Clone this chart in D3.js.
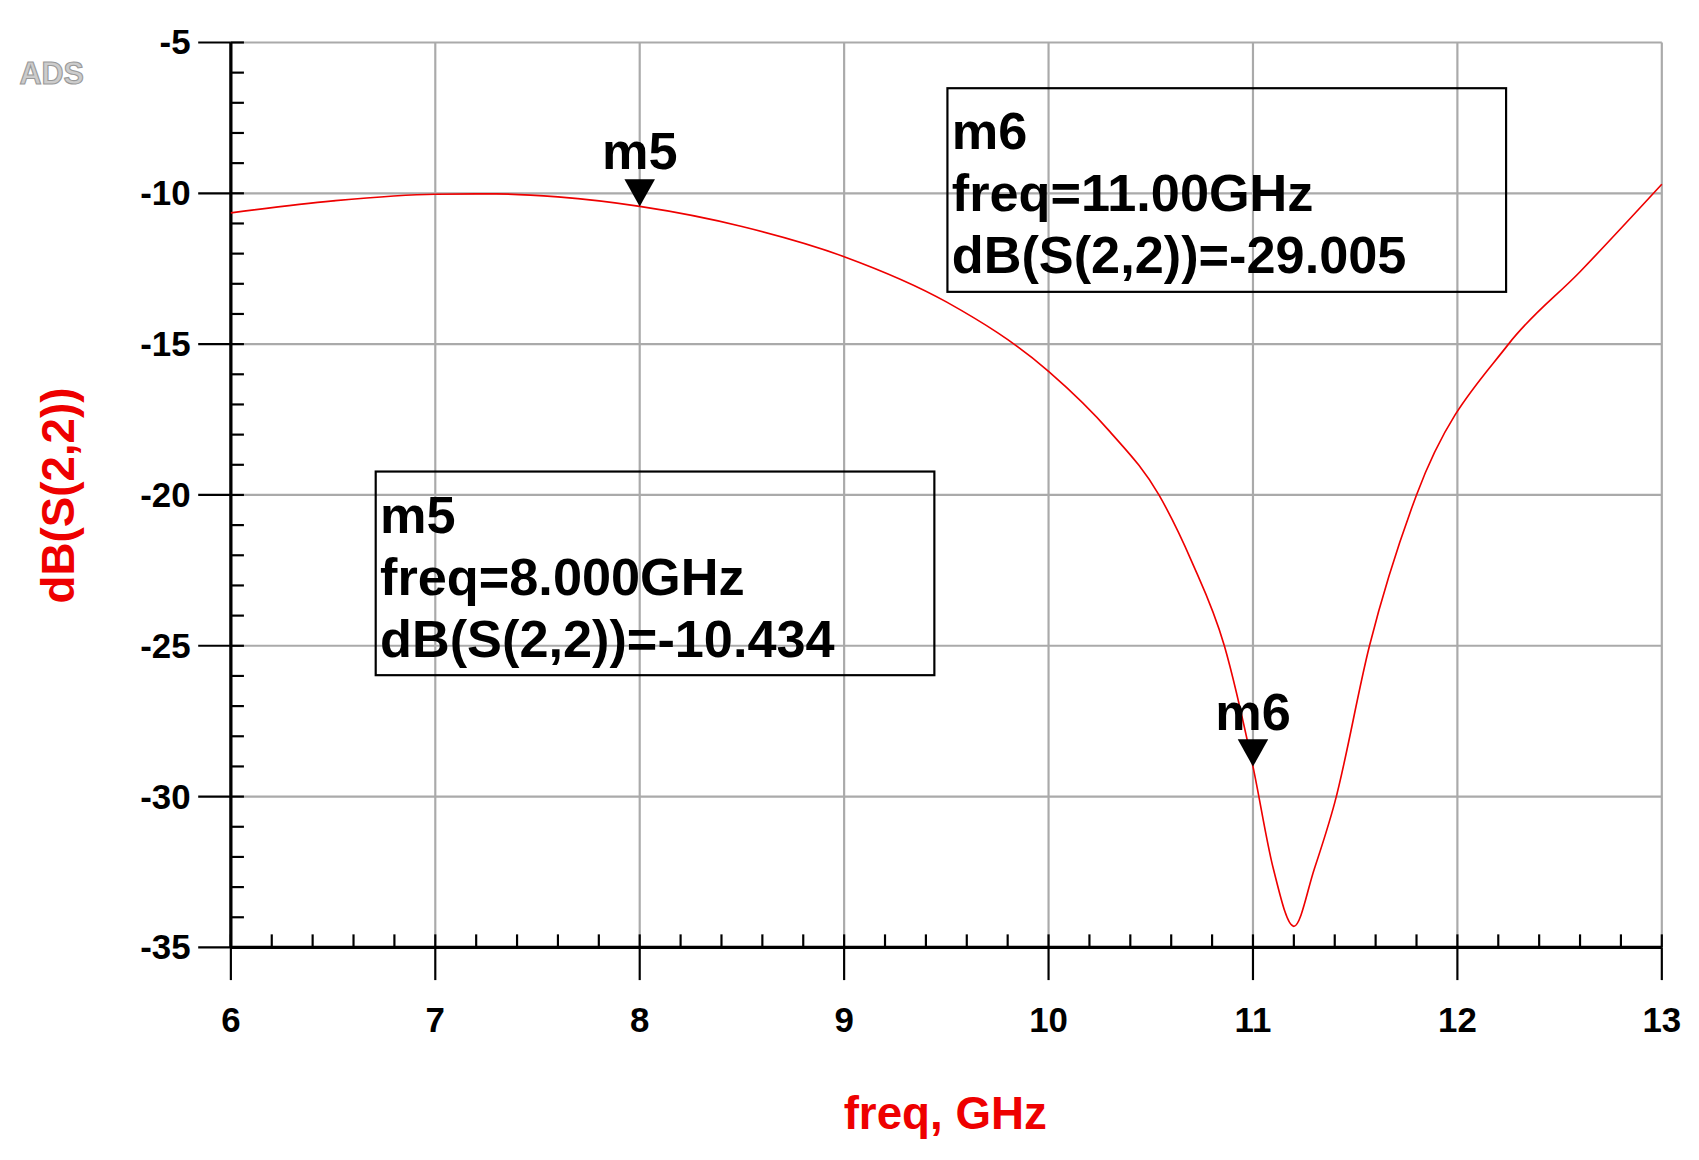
<!DOCTYPE html>
<html><head><meta charset="utf-8">
<script src="https://cdn.jsdelivr.net/npm/d3@7"></script>
<style>body{margin:0;background:#fff}text{font-family:"Liberation Sans",Arial,sans-serif}</style>
</head><body>
<script>
const freq = [6, 6.5, 7, 7.3, 7.6, 8, 8.5, 9, 9.5, 10, 10.3, 10.54, 10.7, 10.86, 11, 11.1, 11.2, 11.3, 11.4, 11.57, 11.8, 12.25, 12.6, 13];
const s22 = [-10.65, -10.25, -10.03, -10.02, -10.12, -10.434, -11.1, -12.1, -13.6, -15.9, -17.9, -20.0, -22.2, -25.0, -29.005, -32.4, -34.3, -32.4, -30.2, -25.0, -20.0, -15.0, -12.6, -9.7];
const markers = [
  {name: "m5", f: 8, v: -10.434, label: ["m5", "freq=8.000GHz", "dB(S(2,2))=-10.434"], box: [345, 433, 513, 187]},
  {name: "m6", f: 11, v: -29.005, label: ["m6", "freq=11.00GHz", "dB(S(2,2))=-29.005"], box: [870, 81, 513, 187]}
];
const xTicks = [6, 7, 8, 9, 10, 11, 12, 13];
const yTicks = [-5, -10, -15, -20, -25, -30, -35];

const W = 1699, H = 1160;
const root = d3.select("body").append("svg").attr("width", W).attr("height", H);
const svg = root.append("g").attr("transform", "scale(1.089)");
const x = d3.scaleLinear().domain([6, 13]).range([212, 1526]);
const y = d3.scaleLinear().domain([-35, -5]).range([870, 39]);

// grid
svg.selectAll(".gx").data(xTicks).enter().append("line")
  .attr("x1", d => x(d)).attr("x2", d => x(d)).attr("y1", 39).attr("y2", 870)
  .attr("stroke", "#aaa").attr("stroke-width", 2);
svg.selectAll(".gy").data(yTicks).enter().append("line")
  .attr("x1", 212).attr("x2", 1526).attr("y1", d => y(d)).attr("y2", d => y(d))
  .attr("stroke", "#aaa").attr("stroke-width", 2);

// minor ticks
const xm = d3.range(6, 13.001, 0.2);
svg.selectAll(".mx").data(xm).enter().append("line")
  .attr("x1", d => x(d)).attr("x2", d => x(d)).attr("y1", 870).attr("y2", 858)
  .attr("stroke", "#000").attr("stroke-width", 2);
const ym = d3.range(-35, -4.999, 1);
svg.selectAll(".my").data(ym).enter().append("line")
  .attr("x1", 212).attr("x2", 224).attr("y1", d => y(d)).attr("y2", d => y(d))
  .attr("stroke", "#000").attr("stroke-width", 2);
// major ticks
svg.selectAll(".Mx").data(xTicks).enter().append("line")
  .attr("x1", d => x(d)).attr("x2", d => x(d)).attr("y1", 870).attr("y2", 900)
  .attr("stroke", "#000").attr("stroke-width", 2);
svg.selectAll(".My").data(yTicks).enter().append("line")
  .attr("x1", 182).attr("x2", 212).attr("y1", d => y(d)).attr("y2", d => y(d))
  .attr("stroke", "#000").attr("stroke-width", 2);
svg.append("line").attr("x1", 212).attr("x2", 1526).attr("y1", 870).attr("y2", 870).attr("stroke", "#000").attr("stroke-width", 3);
svg.append("line").attr("x1", 212).attr("x2", 212).attr("y1", 39).attr("y2", 870).attr("stroke", "#000").attr("stroke-width", 3);

svg.selectAll(".tx").data(xTicks).enter().append("text")
  .attr("x", d => x(d)).attr("y", 948).attr("text-anchor", "middle")
  .attr("font-size", 32).attr("font-weight", "bold").text(d => d);
svg.selectAll(".ty").data(yTicks).enter().append("text")
  .attr("x", 175).attr("y", d => y(d) + 11).attr("text-anchor", "end")
  .attr("font-size", 32).attr("font-weight", "bold").text(d => d);

svg.append("text").attr("x", 868).attr("y", 1037).attr("text-anchor", "middle")
  .attr("font-size", 42).attr("font-weight", "bold").attr("fill", "#e00").text("freq, GHz");
svg.append("text").attr("transform", "translate(68,455) rotate(-90)").attr("text-anchor", "middle")
  .attr("font-size", 42).attr("font-weight", "bold").attr("fill", "#e00").text("dB(S(2,2))");
svg.append("text").attr("x", 18).attr("y", 77).attr("font-size", 28).attr("font-weight", "bold")
  .attr("fill", "#ccc").attr("stroke", "#999").attr("stroke-width", 1).text("ADS");

// curve
svg.append("path").datum(freq.map((f, i) => [f, s22[i]]))
  .attr("d", d3.line().x(d => x(d[0])).y(d => y(d[1])).curve(d3.curveMonotoneX))
  .attr("fill", "none").attr("stroke", "#e00").attr("stroke-width", 1.5);

// markers
markers.forEach(m => {
  const px = x(m.f), py = y(m.v);
  svg.append("path").attr("d", `M${px - 14},${py - 25}L${px + 14},${py - 25}L${px},${py}Z`).attr("fill", "#000");
  svg.append("text").attr("x", px).attr("y", py - 34).attr("text-anchor", "middle")
    .attr("font-size", 48).attr("font-weight", "bold").text(m.name);
  const [bx, by, bw, bh] = m.box;
  svg.append("rect").attr("x", bx).attr("y", by).attr("width", bw).attr("height", bh)
    .attr("fill", "none").attr("stroke", "#000").attr("stroke-width", 2);
  m.label.forEach((t, i) => svg.append("text").attr("x", bx + 4).attr("y", by + 56 + i * 57)
    .attr("font-size", 48).attr("font-weight", "bold").text(t));
});
</script>
</body></html>
